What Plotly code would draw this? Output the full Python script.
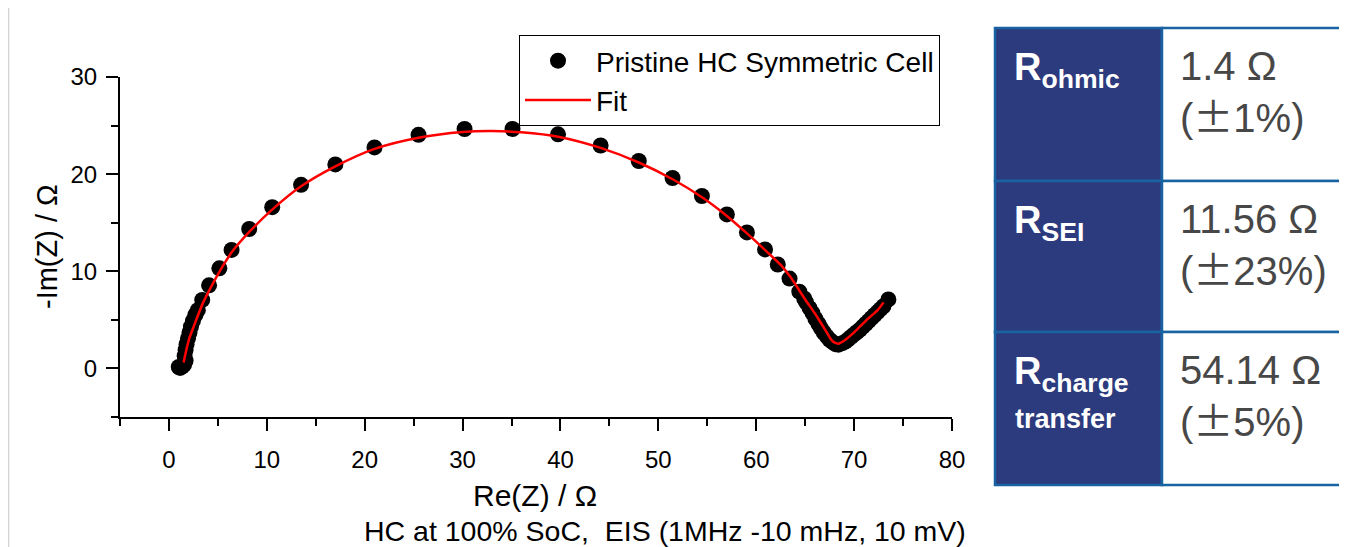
import plotly.graph_objects as go

# ---------------- data ----------------
re_data = [1.0, 1.15, 1.35, 1.55, 1.7, 1.6, 1.7, 1.8, 1.95, 2.1, 2.25, 2.45, 2.7, 2.95,
           3.4, 4.1, 5.15, 6.4, 8.2, 10.55, 13.5, 17.0, 21.0, 25.5, 30.2, 35.1, 39.75,
           44.1, 48.0, 51.45, 54.45, 57.0, 59.05, 60.9, 62.2, 63.4, 64.4, 64.9, 65.1,
           65.45, 65.75, 66.05, 66.35, 66.6, 66.9, 67.2, 67.5, 67.8, 68.1, 68.4, 68.8,
           69.1, 69.4, 69.7, 70.0, 70.3, 70.6, 70.9, 71.2, 71.5, 71.8, 72.1, 72.4, 72.7,
           73.0, 73.5]
im_data = [0.15, 0.05, 0.2, 0.4, 0.8, 1.3, 1.9, 2.5, 3.1, 3.7, 4.3, 4.9, 5.5, 6.0,
           7.05, 8.55, 10.3, 12.2, 14.35, 16.6, 18.9, 21.0, 22.75, 24.05, 24.65, 24.65, 24.1,
           22.95, 21.35, 19.6, 17.75, 15.85, 14.0, 12.25, 10.7, 9.25, 7.9, 7.2, 6.8,
           6.2, 5.7, 5.1, 4.6, 4.15, 3.7, 3.3, 2.95, 2.7, 2.5, 2.45, 2.6,
           2.75, 3.0, 3.25, 3.5, 3.75, 4.0, 4.3, 4.6, 4.9, 5.2, 5.5, 5.8, 6.1,
           6.4, 7.1]

re_fit = [1.5, 1.75, 2.05, 2.6, 3.5, 4.15, 5.15, 6.45, 8.25, 10.6, 13.5, 17.0, 21.0,
          25.5, 30.0, 33.0, 36.0, 39.75, 44.1, 48.0, 51.5, 54.5, 57.0, 59.0, 61.0, 62.5,
          63.5, 65.0, 66.0, 67.0, 67.8, 68.4, 69.3, 70.3, 71.4, 72.4, 73.0]
im_fit = [0.6, 1.8, 3.0, 4.5, 6.8, 8.1, 9.95, 12.0, 14.1, 16.4, 18.75, 20.8, 22.6,
          23.75, 24.35, 24.45, 24.3, 23.85, 22.7, 21.2, 19.45, 17.6, 15.7, 13.95, 12.1, 10.65,
          9.4, 7.1, 5.65, 4.05, 2.8, 2.55, 3.1, 4.0, 5.1, 6.0, 6.8]

table_params = ["ohmic", "SEI", "charge"]
table_values = ["1.4 Ω", "11.56 Ω", "54.14 Ω"]
table_errors = ["1%", "23%", "5%"]

x_title = "Re(Z) / Ω"
y_title = "-Im(Z) / Ω"
caption = "HC at 100% SoC,  EIS (1MHz -10 mHz, 10 mV)"

# ---------------- layout helpers ----------------
OFF = 8                     # page body margin
W, H = 1347 - OFF, 547 - OFF
L, R, T, B = 120, 952, 77, 417   # plot area in page px


def px(x):
    return (x - L) / (R - L)


def py(y):
    return (B - y) / (B - T)


FONT = "Liberation Sans, Arial, sans-serif"

fig = go.Figure()
fig.add_trace(go.Scatter(
    x=re_data, y=im_data, mode="markers", name="Pristine HC Symmetric Cell",
    marker=dict(color="black", size=16, line=dict(width=0)),
))
fig.add_trace(go.Scatter(
    x=re_fit, y=im_fit, mode="lines", name="Fit",
    line=dict(color="#ff0000", width=2.5, shape="spline", smoothing=0.8),
))

axis_common = dict(
    showline=True, linecolor="black", linewidth=2, mirror=False,
    ticks="outside", ticklen=12, tickwidth=2, tickcolor="black",
    showgrid=False, zeroline=False,
    tickfont=dict(family=FONT, size=24, color="black"),
    minor=dict(ticks="outside", ticklen=7, tickwidth=2, tickcolor="black", dtick=5, showgrid=False),
)
fig.update_xaxes(range=[-5, 80], tick0=0, dtick=10, ticklabelstandoff=8, **axis_common)
fig.update_yaxes(range=[-5, 30], tick0=0, dtick=10, ticklabelstandoff=4, **axis_common)

shapes = []
# faint left border line of the slide
shapes.append(dict(type="line", xref="paper", yref="paper", x0=px(8.5), x1=px(8.5), y0=py(0), y1=py(560),
                   line=dict(color="#d4d4d4", width=1.5)))

# table
rows = [(28, 181), (181, 332), (332, 485)]
c0, c1, c2 = 995, 1162, 1365
border = "#1A63A3"
dark = "#2C3A7E"
for (ya, yb) in rows:
    shapes.append(dict(type="rect", xref="paper", yref="paper", x0=px(c0), x1=px(c1), y0=py(yb), y1=py(ya),
                       fillcolor=dark, line=dict(color=border, width=2.5), layer="above"))
    shapes.append(dict(type="rect", xref="paper", yref="paper", x0=px(c1), x1=px(c2), y0=py(yb), y1=py(ya),
                       fillcolor="white", line=dict(color=border, width=2.5), layer="above"))

annotations = []
label_font = dict(family=FONT, size=38, color="white")
val_font = dict(family=FONT, size=40, color="#474747")
for i, (ya, yb) in enumerate(rows):
    annotations.append(dict(
        xref="paper", yref="paper", x=px(1012), y=py(ya + 16), xanchor="left", yanchor="top",
        text="<b>R<sub>%s</sub></b>" % table_params[i], showarrow=False, font=label_font, align="left"))
    annotations.append(dict(
        xref="paper", yref="paper", x=px(1178), y=py(ya + 14), xanchor="left", yanchor="top",
        text="%s<br>(<span style=\"font-family:Noto Sans CJK SC\">±</span>%s)" % (table_values[i], table_errors[i]),
        showarrow=False, font=val_font, align="left"))
annotations.append(dict(
    xref="paper", yref="paper", x=px(1013), y=py(419), xanchor="left", yanchor="middle",
    text="<b>transfer</b>", showarrow=False, font=dict(family=FONT, size=27, color="white")))

annotations.append(dict(xref="paper", yref="paper", x=px(535), y=py(495), xanchor="center", yanchor="middle",
                        text=x_title, showarrow=False, font=dict(family=FONT, size=30, color="black")))
annotations.append(dict(xref="paper", yref="paper", x=px(47), y=py(247), xanchor="center", yanchor="middle",
                        text=y_title, textangle=-90, showarrow=False,
                        font=dict(family=FONT, size=29, color="black")))
annotations.append(dict(xref="paper", yref="paper", x=px(665), y=py(531), xanchor="center", yanchor="middle",
                        text=caption, showarrow=False, font=dict(family=FONT, size=28.5, color="black")))

fig.update_layout(
    width=W, height=H,
    margin=dict(l=L - OFF, r=(W + OFF) - R, t=T - OFF, b=(H + OFF) - B, pad=0),
    paper_bgcolor="white", plot_bgcolor="white",
    shapes=shapes, annotations=annotations,
    legend=dict(x=px(519), y=py(35), xanchor="left", yanchor="top",
                bordercolor="black", borderwidth=1, bgcolor="white",
                font=dict(family=FONT, size=28, color="black"),
                itemwidth=66, tracegroupgap=0),
    showlegend=True,
)

fig.write_html("out.html")
